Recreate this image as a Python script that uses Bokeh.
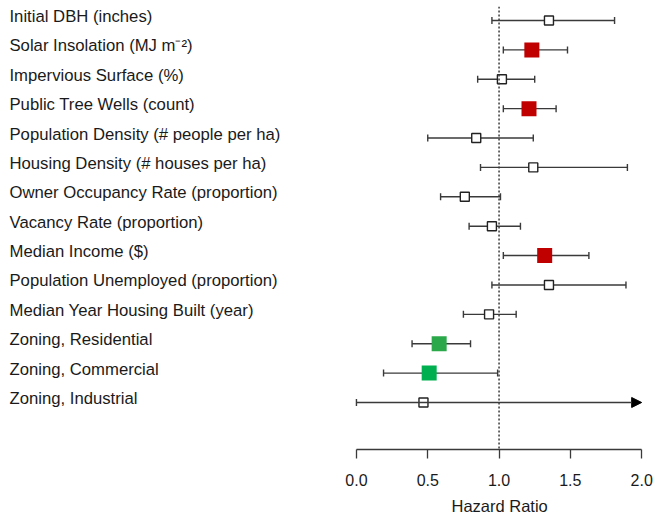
import numpy as np
from bokeh.plotting import figure
from bokeh.models import Range1d, ColumnDataSource, Span, Arrow, NormalHead, FixedTicker, Title
from bokeh.core.properties import value
from bokeh.embed import file_html
from bokeh.resources import INLINE

# ---------------- data ----------------
variables = [
    "Initial DBH (inches)",
    "Solar Insolation (MJ m\u207b\u00b2)",
    "Impervious Surface (%)",
    "Public Tree Wells (count)",
    "Population Density (# people per ha)",
    "Housing Density (# houses per ha)",
    "Owner Occupancy Rate (proportion)",
    "Vacancy Rate (proportion)",
    "Median Income ($)",
    "Population Unemployed (proportion)",
    "Median Year Housing Built (year)",
    "Zoning, Residential",
    "Zoning, Commercial",
    "Zoning, Industrial",
]
hazard_ratio = [1.35, 1.23, 1.02, 1.21, 0.84, 1.24, 0.76, 0.95, 1.32, 1.35, 0.93, 0.58, 0.51, 0.47]
ci_lower = [0.95, 1.03, 0.85, 1.03, 0.50, 0.87, 0.59, 0.79, 1.03, 0.95, 0.75, 0.39, 0.19, 0.00]
ci_upper = [1.81, 1.48, 1.25, 1.40, 1.24, 1.90, 1.01, 1.15, 1.63, 1.89, 1.12, 0.80, 0.99, float("inf")]
significant = [False, True, False, True, False, False, False, False, True, False, False, True, True, False]
x_ticks = [0.0, 0.5, 1.0, 1.5, 2.0]
x_title = "Hazard Ratio"

# ---------------- style ----------------
sig_colors = {1: "#C00000", 3: "#C00000", 8: "#C00000", 11: "#2BA84A", 12: "#00B050"}
FONT = "Liberation Sans"
TXT = "#1a1a1a"
LINE = "#3a3a3a"
AX_MIN, AX_MAX = x_ticks[0], x_ticks[-1]
X_START, X_END = -2.496, 2.062
Y_BOTTOM, Y_TOP = 14.6, -0.4765

n = len(variables)
rows = np.arange(n)
lo = np.array(ci_lower)
hi_raw = np.array(ci_upper)
trunc = hi_raw > AX_MAX
hi = np.minimum(hi_raw, AX_MAX)
hr = np.array(hazard_ratio)
sig = np.array(significant)

W, H = 655, 520
p = figure(width=W, height=H, output_backend="svg", toolbar_location=None,
           x_range=Range1d(X_START, X_END), y_range=Range1d(Y_BOTTOM, Y_TOP),
           y_axis_type=None, min_border_left=0, min_border_right=5,
           min_border_top=6, min_border_bottom=71)
p.outline_line_color = None
p.xgrid.visible = False
p.ygrid.visible = False
p.background_fill_color = "white"
p.border_fill_color = "white"

# reference line at HR = 1
p.add_layout(Span(location=1.0, dimension="height", line_color=LINE,
                  line_dash="2 2", line_width=1.5))

# whiskers
nt = ~trunc
p.segment(x0=lo[nt], y0=rows[nt], x1=hi[nt], y1=rows[nt], line_color=LINE, line_width=1.4)
p.scatter(x=lo, y=rows, marker="dash", angle=np.pi / 2, size=7, line_color=LINE, line_width=1.4)
p.scatter(x=hi[nt], y=rows[nt], marker="dash", angle=np.pi / 2, size=7, line_color=LINE, line_width=1.4)
for r in rows[trunc]:
    p.add_layout(Arrow(x_start=lo[r], y_start=r, x_end=hi[r], y_end=r,
                       line_color=LINE, line_width=1.4, start=None,
                       end=NormalHead(size=10, fill_color="black", line_color="black")))

# points
ns = ~sig
p.scatter(x=hr[ns], y=rows[ns], marker="square", size=9, fill_color="white",
          line_color="#222222", line_width=1.4)
sig_idx = rows[sig]
p.scatter(x=hr[sig], y=sig_idx, marker="square", size=15,
          fill_color=[sig_colors[i] for i in sig_idx], line_color=None)

# variable labels
src = ColumnDataSource(dict(x=[X_START + 0.063] * n, y=rows, t=variables))
p.text(x="x", y="y", text="t", source=src, text_font=value(FONT), text_font_size="16.7px",
       text_color=TXT, text_baseline="middle", text_align="left", y_offset=-4)

# x axis
ax = p.xaxis[0]
ax.bounds = (AX_MIN, AX_MAX)
ax.ticker = FixedTicker(ticks=x_ticks)
ax.major_label_overrides = {t: f"{t:.1f}" for t in x_ticks}
ax.axis_line_color = LINE
ax.axis_line_width = 1.3
ax.major_tick_line_color = LINE
ax.major_tick_line_width = 1.3
ax.major_tick_out = 9
ax.major_tick_in = 0
ax.minor_tick_line_color = None
ax.major_label_standoff = 15
ax.major_label_text_font = FONT
ax.major_label_text_font_size = "16px"
ax.major_label_text_color = TXT

# axis title centred under the tick span (offset from the frame's left edge)
p.add_layout(Title(text=x_title, align="left", offset=451, standoff=12,
                   text_font=FONT, text_font_size="16.5px", text_font_style="normal",
                   text_color=TXT), "below")

open("out.html", "w").write(file_html(p, INLINE))
